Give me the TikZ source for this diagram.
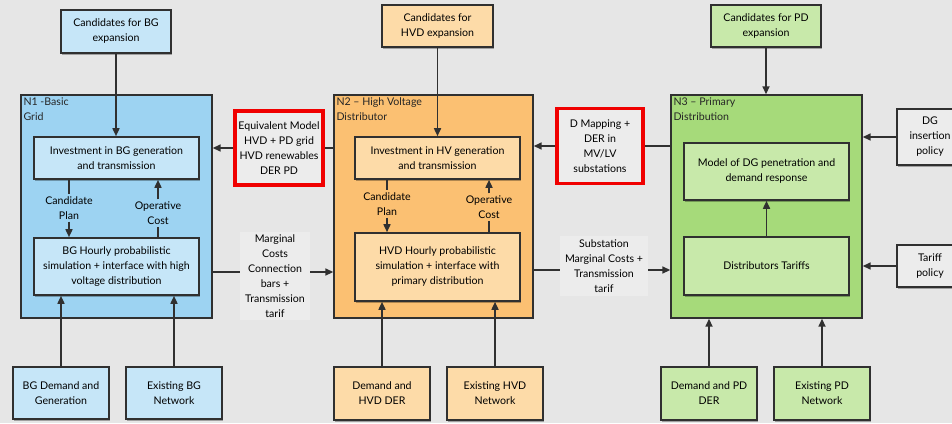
\documentclass[tikz,border=0pt]{standalone}
\usepackage{fontspec}
\setmainfont{Lato}
\usetikzlibrary{arrows.meta,shadows,calc}

\definecolor{bgc}{HTML}{E6E6E6}
\definecolor{linec}{HTML}{303030}
\definecolor{blueA}{HTML}{9DD3F2}
\definecolor{blueB}{HTML}{C6E6F8}
\definecolor{orA}{HTML}{FBC072}
\definecolor{orB}{HTML}{FDDBA8}
\definecolor{grA}{HTML}{A6DA7A}
\definecolor{grB}{HTML}{C8E9AA}
\definecolor{grayB}{HTML}{ECECEC}
\definecolor{notec}{HTML}{ECECEC}
\definecolor{redc}{HTML}{F00000}

\begin{document}
\begin{tikzpicture}[x=1pt,y=-1pt,
  font=\fontsize{10.6}{15}\selectfont,
  area/.style={draw=linec, line width=1.4pt, inner sep=0pt},
  arealab/.style={anchor=north west, align=left, inner sep=3pt, text=black!85},
  box/.style={draw=linec, line width=1.6pt, align=center, inner sep=2pt,
    drop shadow={shadow xshift=1.3pt, shadow yshift=-1.6pt, opacity=0.3, fill=black}},
  redbox/.style={draw=redc, line width=3.5pt, fill=notec, align=center, inner sep=2pt},
  note/.style={fill=notec, align=center, inner sep=2pt},
  tag/.style={align=center, inner sep=2pt},
  flow/.style={draw=linec, line width=1.6pt},
  arr/.style={flow, -{Triangle[length=8pt,width=7pt]}}]

\useasboundingbox[fill=bgc] (0,0) rectangle (952,423);

% ---------- level containers ----------
\node[area, fill=blueA, minimum width=191, minimum height=223] (N1) at (116.5,206.5) {};
\node[arealab] (N1lab) at (N1.north west) {N1 -Basic\\Grid};
\node[area, fill=orA, minimum width=199, minimum height=223] (N2) at (433.5,206.5) {};
\node[arealab] (N2lab) at (N2.north west) {N2 -- High Voltage\\Distributor};
\node[area, fill=grA, minimum width=191, minimum height=223] (N3) at (766.5,206.5) {};
\node[arealab] (N3lab) at (N3.north west) {N3 -- Primary\\Distribution};

% ---------- basic grid ----------
\node[box, fill=blueB, minimum width=110, minimum height=43] (candBG) at (116,31.5) {Candidates for BG\\expansion};
\node[box, fill=blueB, minimum width=165, minimum height=42] (invBG) at (116.5,158) {Investment in BG generation\\and transmission};
\node[box, fill=blueB, minimum width=165, minimum height=57] (hourBG) at (116.5,266.5) {BG Hourly probabilistic\\simulation + interface with high\\voltage distribution};
\node[box, fill=blueB, minimum width=96, minimum height=52] (demBG) at (61,393) {BG Demand and\\Generation};
\node[box, fill=blueB, minimum width=96, minimum height=52] (exBG) at (174,393) {Existing BG\\Network};
\node[tag] (cpBG) at (69,208) {Candidate\\Plan};
\node[tag] (ocBG) at (158,213) {Operative\\Cost};

% ---------- high voltage distributor ----------
\node[box, fill=orB, minimum width=111, minimum height=42] (candHVD) at (437.5,26) {Candidates for\\HVD expansion};
\node[box, fill=orB, minimum width=165, minimum height=42] (invHV) at (437.5,158) {Investment in HV generation\\and transmission};
\node[box, fill=orB, minimum width=165, minimum height=68] (hourHVD) at (437.5,267) {HVD Hourly probabilistic\\simulation + interface with\\primary distribution};
\node[box, fill=orB, minimum width=96, minimum height=53] (demHVD) at (382,393.5) {Demand and\\HVD DER};
\node[box, fill=orB, minimum width=96, minimum height=53] (exHVD) at (495,393.5) {Existing HVD\\Network};
\node[tag] (cpHV) at (387,204) {Candidate\\Plan};
\node[tag] (ocHV) at (489,207) {Operative\\Cost};

% ---------- primary distribution ----------
\node[box, fill=grB, minimum width=110, minimum height=42] (candPD) at (766,26) {Candidates for PD\\expansion};
\node[box, fill=grB, minimum width=165, minimum height=57] (modDG) at (766.5,171.5) {Model of DG penetration and\\demand response};
\node[box, fill=grB, minimum width=165, minimum height=58] (distT) at (766.5,266) {Distributors Tariffs};
\node[box, fill=grB, minimum width=96, minimum height=53] (demPD) at (709,393.5) {Demand and PD\\DER};
\node[box, fill=grB, minimum width=96, minimum height=53] (exPD) at (822,393.5) {Existing PD\\Network};
\node[box, fill=grayB, minimum width=66, minimum height=56] (dgPol) at (930,137) {DG\\insertion\\policy};
\node[box, fill=grayB, minimum width=66, minimum height=42] (tarPol) at (930,266) {Tariff\\policy};

% ---------- exchanges between levels ----------
\node[redbox, minimum width=88, minimum height=74] (eqMod) at (279,148) {Equivalent Model\\HVD + PD grid\\HVD renewables\\DER PD};
\node[redbox, minimum width=86, minimum height=75] (dMap) at (600,146) {D Mapping +\\DER in\\MV/LV\\substations};
\node[note, minimum width=70, minimum height=88] (mcLab) at (275,276) {Marginal\\Costs\\Connection\\bars +\\Transmission\\tarif};
\node[note, minimum width=88, minimum height=60] (ssLab) at (604,266) {Substation\\Marginal Costs +\\Transmission\\tarif};
\coordinate (mcY) at (0,272);
\coordinate (ssY) at (0,270);

% ---------- connectors: basic grid ----------
\draw[arr] (candBG.south) -- (candBG.south |- invBG.north);
\draw[flow] (invBG.south -| cpBG) -- (cpBG);
\draw[arr] (cpBG) -- (hourBG.north -| cpBG);
\draw[flow] (hourBG.north -| ocBG) -- (ocBG);
\draw[arr] (ocBG) -- (invBG.south -| ocBG);
\draw[arr] (demBG.north) -- (demBG.north |- hourBG.south);
\draw[arr] (exBG.north) -- (exBG.north |- hourBG.south);

% ---------- connectors: high voltage distributor ----------
\draw[arr] (candHVD.south) -- (candHVD.south |- invHV.north);
\draw[flow] (invHV.south -| cpHV) -- (cpHV);
\draw[arr] (cpHV) -- (hourHVD.north -| cpHV);
\draw[flow] (hourHVD.north -| ocHV) -- (ocHV);
\draw[arr] (ocHV) -- (invHV.south -| ocHV);
\draw[arr] (demHVD.north) -- (demHVD.north |- hourHVD.south);
\draw[arr] (exHVD.north) -- (exHVD.north |- hourHVD.south);

% ---------- connectors: primary distribution ----------
\draw[arr] (candPD.south) -- (candPD.south |- N3.north);
\draw[arr] (distT.north) -- (distT.north |- modDG.south);
\draw[arr] (demPD.north) -- (demPD.north |- N3.south);
\draw[arr] (exPD.north) -- (exPD.north |- N3.south);
\draw[arr] (dgPol.west) -- (N3.east |- dgPol.west);
\draw[arr] (tarPol.west) -- (N3.east |- tarPol.west);

% ---------- connectors between levels ----------
\draw[flow] (N2.west |- eqMod.west) -- (eqMod.east);
\draw[arr] (eqMod.west) -- (N1.east |- eqMod.west);
\draw[flow] (N3.west |- dMap.west) -- (dMap.east);
\draw[arr] (dMap.west) -- (N2.east |- dMap.west);
\draw[flow] (N1.east |- mcY) -- (mcLab.west |- mcY);
\draw[arr] (mcLab.east |- mcY) -- (N2.west |- mcY);
\draw[flow] (N2.east |- ssY) -- (ssLab.west |- ssY);
\draw[arr] (ssLab.east |- ssY) -- (N3.west |- ssY);

\end{tikzpicture}
\end{document}
